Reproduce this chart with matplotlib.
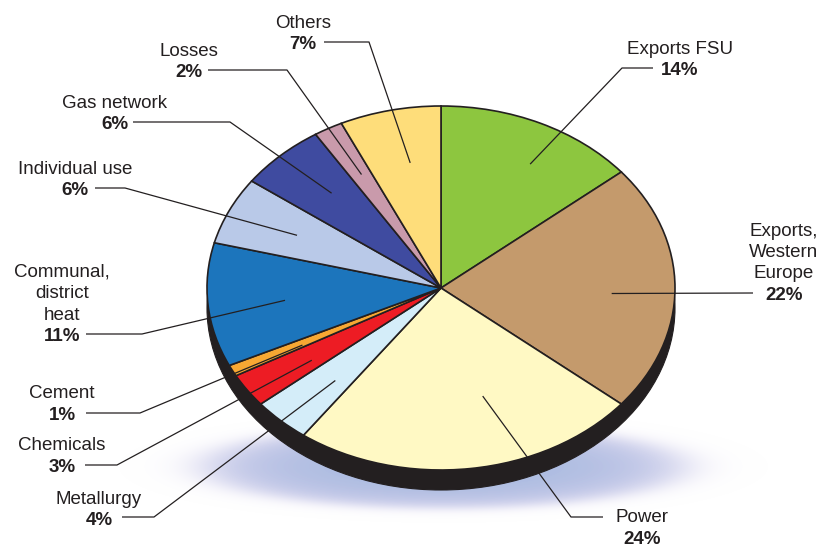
import numpy as np
import matplotlib.pyplot as plt
from matplotlib.patches import Ellipse

# gas use shares, clockwise from 12 o'clock
sectors = ["Exports FSU", "Exports,\nWestern\nEurope", "Power", "Metallurgy", "Chemicals",
           "Cement", "Communal,\ndistrict\nheat", "Individual use", "Gas network",
           "Losses", "Others"]
shares = [14, 22, 24, 4, 3, 1, 11, 6, 6, 2, 7]
colors = ["#8dc63f", "#c49a6c", "#fff9c4", "#d4edf9", "#ed1c24", "#f7a833",
          "#1c75bc", "#b9c9e8", "#3f4ba0", "#c99aab", "#fedd7a"]

# label layout in pixels: text centre x, y of the percent line,
# leader start (fraction across the wedge, radial fraction), elbow, end
label_cx = [680, 784, 642, 99, 62, 62, 62, 75, 115, 189, 303]
label_y = [68, 293, 537, 518, 465, 413, 334, 188, 122, 70, 42]
lead_f = [0.58, 0.53, 0.39, 0.39, 0.36, 0.25, 0.49, 0.50, 0.56, 0.53, 0.57]
lead_r = [0.78, 0.73, 0.62, 0.68, 0.68, 0.67, 0.67, 0.68, 0.70, 0.71, 0.70]
lead_elbow = [(622, 68), None, (571, 517), (154, 517), (117, 465), (140, 413),
              (142, 334), (125, 188), (230, 122), (287, 70), (369, 42)]
lead_end = [(653, 68), (753, 293), (603, 517), (122, 517), (85, 465), (86, 413),
            (86, 334), (95, 188), (133, 122), (208, 70), (324, 42)]

W, H = 821, 549
cx, cy, rx, ry = 441, 288, 234, 182
rim = 20
ink = "#231f20"

fig = plt.figure(figsize=(W / 100, H / 100), dpi=100)

# background: soft shadow and the dark side of the disc
bg = fig.add_axes([0, 0, 1, 1])
gx, gy = np.meshgrid(np.arange(W), np.arange(H))
d = ((gx - 443) / 270.0) ** 2 + ((gy - 466) / 47.0) ** 2
alpha = 1.0 / (1.0 + np.exp((d - 0.78) / 0.12))
c_in = np.array([168, 186, 224]) / 255.0
c_out = np.array([210, 206, 236]) / 255.0
mix = np.clip(d, 0, 1)[..., None]
img = np.dstack([c_in * (1 - mix) + c_out * mix, alpha])
bg.imshow(img, extent=(0, W, H, 0), aspect="auto", interpolation="bilinear")
bg.add_patch(Ellipse((cx, cy + rim), 2 * rx, 2 * ry, facecolor=ink, edgecolor=ink, lw=0.8))
bg.set_xlim(0, W)
bg.set_ylim(H, 0)
bg.axis("off")

# top face of the pie, squashed into an ellipse
pax = fig.add_axes([(cx - rx) / W, (H - cy - ry) / H, 2 * rx / W, 2 * ry / H])
wedges, _ = pax.pie(shares, colors=colors, startangle=90, counterclock=False, radius=1,
                    wedgeprops=dict(edgecolor=ink, linewidth=1.2))
for w in wedges:
    w.set_clip_on(False)
pax.set_xlim(-1, 1)
pax.set_ylim(-1, 1)
pax.set_aspect("auto")
pax.axis("off")

# leader lines and labels
fg = fig.add_axes([0, 0, 1, 1])
fg.patch.set_alpha(0)
total = float(sum(shares))
cum = np.cumsum([0] + shares)
for i, name in enumerate(sectors):
    ang = np.deg2rad((cum[i] + lead_f[i] * shares[i]) / total * 360.0)
    x0 = cx + rx * lead_r[i] * np.sin(ang)
    y0 = cy - ry * lead_r[i] * np.cos(ang)
    xs, ys = [x0], [y0]
    if lead_elbow[i] is not None:
        xs.append(lead_elbow[i][0])
        ys.append(lead_elbow[i][1])
    xs.append(lead_end[i][0])
    ys.append(lead_end[i][1])
    fg.plot(xs, ys, color=ink, lw=0.9, solid_capstyle="butt")

    lines = name.split("\n")
    n = len(lines)
    for k, line in enumerate(lines):
        fg.text(label_cx[i], label_y[i] - 21.5 * (n - k) + 7, line, ha="center",
                va="baseline", fontsize=13.5, color=ink, family="Liberation Sans")
    fg.text(label_cx[i], label_y[i] + 7, f"{shares[i]}%", ha="center", va="baseline",
            fontsize=13.5, fontweight="bold", color=ink, family="Liberation Sans")

fg.set_xlim(0, W)
fg.set_ylim(H, 0)
fg.axis("off")

fig.savefig("out.png", dpi=100)
